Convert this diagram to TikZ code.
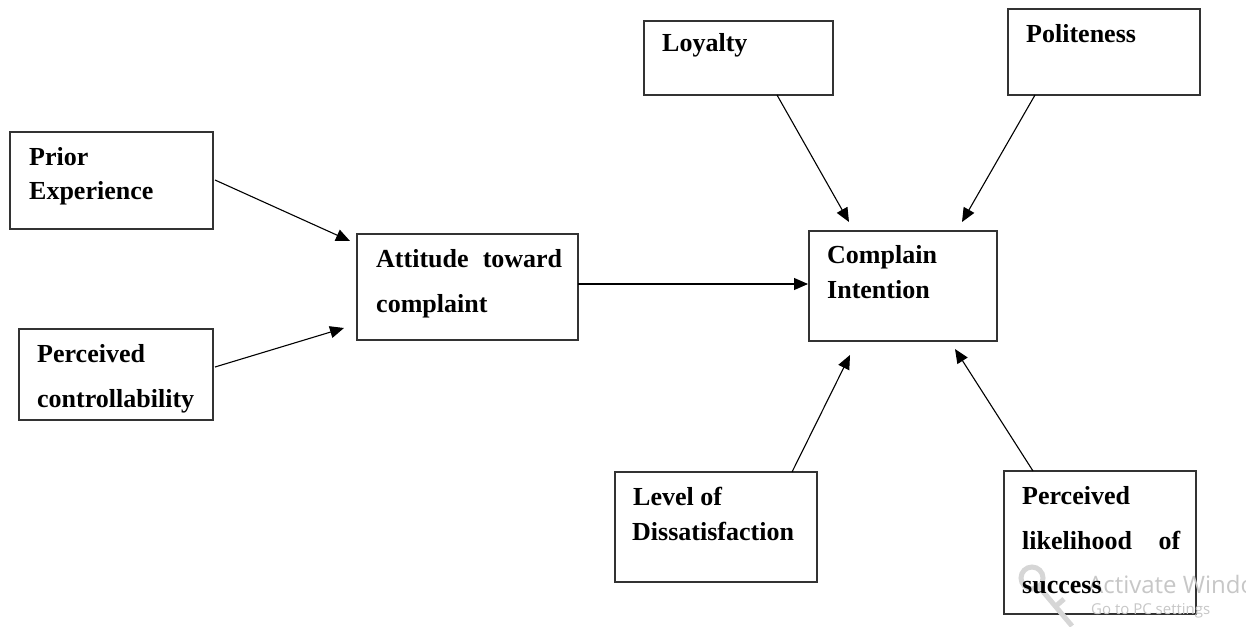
\documentclass[tikz,border=0pt]{standalone}
\usepackage{fontspec}
\setmainfont{Liberation Serif}
\newfontfamily\wmfont{Open Sans}
\usetikzlibrary{arrows.meta}
\begin{document}
\begin{tikzpicture}[x=1pt,y=-1pt,
  box/.style={draw=black!80,line width=1.3pt,inner sep=0pt,outer sep=0pt,anchor=north west},
  txt/.style={anchor=base west,inner sep=0pt,font=\fontsize{26}{30}\selectfont\bfseries},
  arr/.style={draw=black,line width=1.1pt,-{Triangle[length=14pt,width=12pt]}},
  wm/.style={anchor=base west,inner sep=0pt,text=black!22,font=\wmfont}]
\useasboundingbox (0,0) rectangle (1246,626);
\clip (0,0) rectangle (1246,626);
\fill[white] (0,0) rectangle (1246,626);
% boxes
\node[box,minimum width=203pt,minimum height=97pt] (pe) at (10,132) {};
\node[box,minimum width=194pt,minimum height=91pt] (pc) at (19,329) {};
\node[box,minimum width=221pt,minimum height=106pt] (at) at (357,234) {};
\node[box,minimum width=188pt,minimum height=110pt] (ci) at (809,231) {};
\node[box,minimum width=189pt,minimum height=74pt] (loy) at (644,21) {};
\node[box,minimum width=192pt,minimum height=86pt] (pol) at (1008,9) {};
\node[box,minimum width=202pt,minimum height=110pt] (ld) at (615,472) {};
\node[box,minimum width=192pt,minimum height=143pt] (pl) at (1004,471) {};
% watermark
\begin{scope}[black!16,line width=5pt]
\draw (1032,578) circle (11);
\draw (1040,588) -- (1072,626);
\draw (1056,606) -- (1064,599);
\end{scope}
\node[wm,font=\wmfont\fontsize{24}{28}\selectfont] (w1) at (1088,593) {Activate Windows};
\node[wm,font=\wmfont\fontsize{15}{18}\selectfont] (w2) at (1091,614) {Go to PC settings};
% texts
\node[txt] (t1) at (29,165) {Prior};
\node[txt] (t2) at (29,199) {Experience};
\node[txt] (t3) at (37,362) {Perceived};
\node[txt] (t4) at (37,407) {controllability};
\node[txt] (t5) at (376,267) {\makebox[186pt][s]{Attitude\ toward}};
\node[txt] (t6) at (376,312) {complaint};
\node[txt] (t7) at (827,263) {Complain};
\node[txt] (t8) at (827,298) {Intention};
\node[txt] (t9) at (662,52) {Loyalty};
\node[txt] (t10) at (1026,42) {Politeness};
\node[txt] (t11) at (633,505) {Level of};
\node[txt] (t12) at (632,540) {Dissatisfaction};
\node[txt] (t13) at (1022,504) {Perceived};
\node[txt] (t14) at (1022,549) {\makebox[158pt][s]{likelihood\ of}};
\node[txt] (t15) at (1022,593) {success};
% arrow end points
\coordinate (a1s) at (215,180);  \coordinate (a1e) at (350,241);
\coordinate (a2s) at (215,367);  \coordinate (a2e) at (344,328);
\coordinate (a3s) at (578,284);  \coordinate (a3e) at (808,284);
\coordinate (a4s) at (777,95);   \coordinate (a4e) at (849,222);
\coordinate (a5s) at (1035,95);  \coordinate (a5e) at (962,222);
\coordinate (a6s) at (792,472);  \coordinate (a6e) at (850,355);
\coordinate (a7s) at (1033,471); \coordinate (a7e) at (955,349);
\draw[arr] (a1s) -- (a1e);
\draw[arr] (a2s) -- (a2e);
\draw[arr] (a3s) -- (a3e);
\draw[arr] (a4s) -- (a4e);
\draw[arr] (a5s) -- (a5e);
\draw[arr] (a6s) -- (a6e);
\draw[arr] (a7s) -- (a7e);
\end{tikzpicture}
\end{document}
